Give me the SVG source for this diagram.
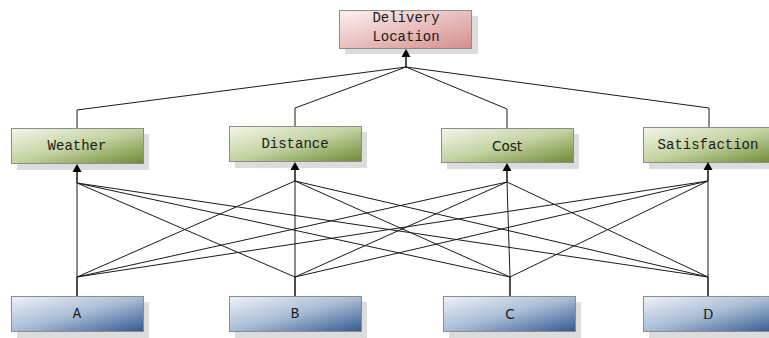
<svg xmlns="http://www.w3.org/2000/svg" width="769" height="338" viewBox="0 0 769 338">
  <defs>
    <linearGradient id="gPink" x1="0" y1="0" x2="1" y2="1">
      <stop offset="0" stop-color="#fdf1f1"/>
      <stop offset="1" stop-color="#d48e8c"/>
    </linearGradient>
    <linearGradient id="gGreen" x1="0" y1="0" x2="1" y2="1">
      <stop offset="0" stop-color="#f3f6ea"/>
      <stop offset="0.5" stop-color="#c3d2a0"/>
      <stop offset="1" stop-color="#6e8a35"/>
    </linearGradient>
    <linearGradient id="gBlue" x1="0" y1="0" x2="1" y2="1">
      <stop offset="0" stop-color="#eef2f8"/>
      <stop offset="0.5" stop-color="#a9bcd6"/>
      <stop offset="1" stop-color="#335a8e"/>
    </linearGradient>
    <!-- upward arrowhead, tip at origin -->
    <path id="head" d="M0,0 L-4.5,8 L4.5,8 Z" fill="#000"/>
  </defs>
  <style>
    .shadow { fill: #dcdcdc; }
    .box { stroke: #8c8c8c; stroke-width: 1; }
    .label { font-family: "Liberation Mono", "DejaVu Sans Mono", monospace; font-size: 14px; fill: #1a1a1a; text-anchor: middle; dominant-baseline: central; }
    .sans { font-family: "DejaVu Sans", "Liberation Sans", sans-serif; font-size: 13.5px; }
    .link { fill: none; stroke: #1a1a1a; stroke-width: 1; }
    .stem { fill: none; stroke: #000; stroke-width: 1.4; }
  </style>

  <g id="delivery-location">
    <rect class="shadow" x="345" y="16" width="133" height="38"/>
    <rect class="box" x="339.5" y="10.5" width="132" height="38" fill="url(#gPink)"/>
    <text class="label" x="406" y="18">Delivery</text>
    <text class="label" x="406" y="37">Location</text>
  </g>

  <g id="weather">
    <rect class="shadow" x="17" y="134" width="132" height="36"/>
    <rect class="box" x="11.5" y="128.5" width="132" height="35" fill="url(#gGreen)"/>
    <text class="label" x="77" y="146">Weather</text>
  </g>

  <g id="distance">
    <rect class="shadow" x="235" y="132" width="132" height="36"/>
    <rect class="box" x="229.5" y="126.5" width="132" height="35" fill="url(#gGreen)"/>
    <text class="label" x="295" y="144">Distance</text>
  </g>

  <g id="cost">
    <rect class="shadow" x="447" y="134" width="132" height="35"/>
    <rect class="box" x="441.5" y="128.5" width="132" height="34" fill="url(#gGreen)"/>
    <text class="label sans" x="507" y="145.5">Cost</text>
  </g>

  <g id="satisfaction">
    <rect class="shadow" x="649" y="133" width="132" height="36"/>
    <rect class="box" x="643.5" y="127.5" width="132" height="35" fill="url(#gGreen)"/>
    <text class="label" x="708" y="145">Satisfaction</text>
  </g>

  <g id="a">
    <rect class="shadow" x="17" y="302" width="132" height="36"/>
    <rect class="box" x="11.5" y="296.5" width="132" height="35" fill="url(#gBlue)"/>
    <text class="label" x="77" y="314">A</text>
  </g>

  <g id="b">
    <rect class="shadow" x="235" y="302" width="132" height="36"/>
    <rect class="box" x="229.5" y="296.5" width="132" height="35" fill="url(#gBlue)"/>
    <text class="label" x="295" y="314">B</text>
  </g>

  <g id="c">
    <rect class="shadow" x="449" y="302" width="132" height="36"/>
    <rect class="box" x="443.5" y="296.5" width="132" height="35" fill="url(#gBlue)"/>
    <text class="label sans" x="510" y="314">C</text>
  </g>

  <g id="d">
    <rect class="shadow" x="649" y="302" width="132" height="36"/>
    <rect class="box" x="643.5" y="296.5" width="132" height="35" fill="url(#gBlue)"/>
    <text class="label" x="708" y="314" style="font-family: 'Liberation Serif', serif;">D</text>
  </g>

  <!-- connectors are drawn last so the arrowheads sit on top of the box shadows -->
  <g id="connectors">
    <!-- goal to criteria -->
    <polyline class="link" points="77,128 77,110 406,67"/>
    <polyline class="link" points="295,126 295,108 406,67"/>
    <polyline class="link" points="507,128 507,109 406,67"/>
    <polyline class="link" points="709,127 709,108 406,67"/>
    <line class="stem" x1="406" y1="67" x2="406" y2="56"/>
    <use href="#head" x="406" y="49"/>

    <!-- criteria arrows -->
    <line class="stem" x1="77" y1="183" x2="77" y2="171"/>
    <use href="#head" x="77" y="164"/>
    <line class="stem" x1="295" y1="181" x2="295" y2="169"/>
    <use href="#head" x="295" y="162"/>
    <line class="stem" x1="507" y1="182" x2="507" y2="170"/>
    <use href="#head" x="507" y="163"/>
    <line class="stem" x1="708" y1="181" x2="708" y2="169"/>
    <use href="#head" x="708" y="162"/>

    <!-- alternative stems -->
    <line class="stem" x1="77" y1="277" x2="77" y2="296"/>
    <line class="stem" x1="295" y1="277" x2="295" y2="296"/>
    <line class="stem" x1="510" y1="277" x2="510" y2="296"/>
    <line class="stem" x1="708" y1="277" x2="708" y2="296"/>

    <!-- alternatives to criteria -->
    <g class="link">
      <line x1="77" y1="277" x2="77" y2="183"/>
      <line x1="77" y1="277" x2="295" y2="181"/>
      <line x1="77" y1="277" x2="507" y2="182"/>
      <line x1="77" y1="277" x2="708" y2="181"/>
      <line x1="295" y1="277" x2="77" y2="183"/>
      <line x1="295" y1="277" x2="295" y2="181"/>
      <line x1="295" y1="277" x2="507" y2="182"/>
      <line x1="295" y1="277" x2="708" y2="181"/>
      <line x1="510" y1="277" x2="77" y2="183"/>
      <line x1="510" y1="277" x2="295" y2="181"/>
      <line x1="510" y1="277" x2="507" y2="182"/>
      <line x1="510" y1="277" x2="708" y2="181"/>
      <line x1="708" y1="277" x2="77" y2="183"/>
      <line x1="708" y1="277" x2="295" y2="181"/>
      <line x1="708" y1="277" x2="507" y2="182"/>
      <line x1="708" y1="277" x2="708" y2="181"/>
    </g>
  </g>
</svg>
